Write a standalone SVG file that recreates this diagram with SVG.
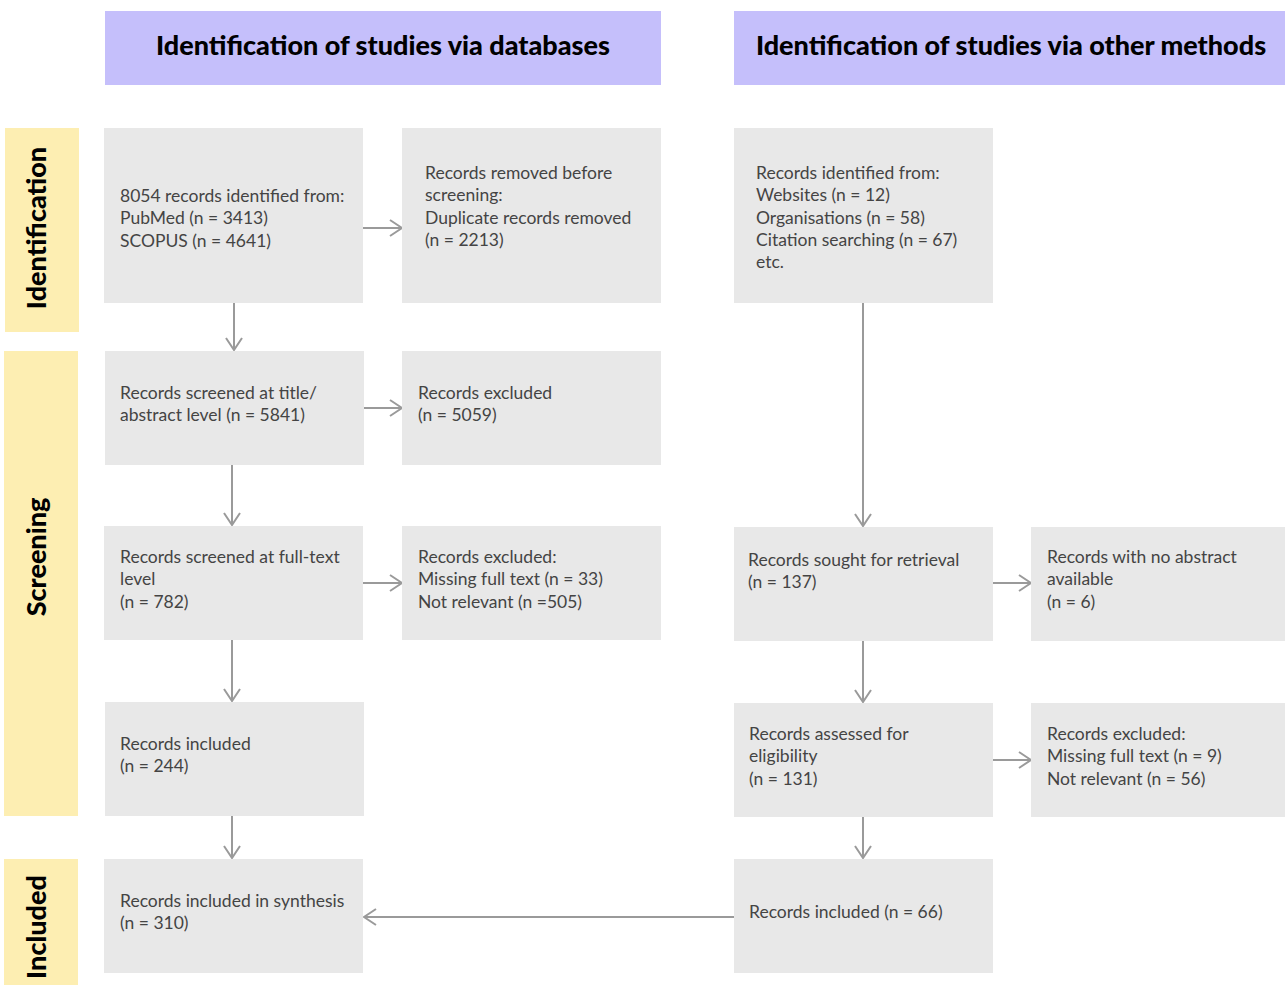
<svg xmlns="http://www.w3.org/2000/svg" width="1285" height="985" viewBox="0 0 1285 985">
<defs>
<style>
.hdr{fill:#c5bffb}
.side{fill:#fdeeb2}
.box{fill:#e8e8e8}
.ht{font-family:Lato,"Open Sans","Liberation Sans",sans-serif;font-weight:900;font-size:27px;fill:#000;text-anchor:middle}
.st{font-family:Lato,"Open Sans","Liberation Sans",sans-serif;font-weight:900;font-size:27px;fill:#000;text-anchor:middle}
.t{font-family:Lato,"Open Sans","Liberation Sans",sans-serif;font-weight:400;font-size:17.5px;fill:#444}
.c{stroke:#9a9a9a;stroke-width:2;fill:none}
</style>
<marker id="ah" viewBox="0 0 14 18" refX="13" refY="9" markerWidth="14" markerHeight="18" markerUnits="userSpaceOnUse" orient="auto">
<path d="M1,1 L13,9 L1,17" fill="none" stroke="#9a9a9a" stroke-width="2"/>
</marker>
</defs>
<rect width="1285" height="985" fill="#fff"/>
<g id="header-databases"><rect class="hdr" x="105" y="11" width="556" height="74"/><text class="ht" x="383" y="55">Identification of studies via databases</text></g>
<g id="header-other"><rect class="hdr" x="734" y="11" width="551" height="74"/><text class="ht" x="1011" y="55">Identification of studies via other methods</text></g>
<g id="side-identification"><rect class="side" x="5" y="128" width="74" height="204"/><text class="st" transform="translate(46,228) rotate(-90)">Identification</text></g>
<g id="side-screening"><rect class="side" x="4" y="351" width="74" height="465"/><text class="st" transform="translate(46,557) rotate(-90)">Screening</text></g>
<g id="side-included"><rect class="side" x="4" y="859" width="74" height="126"/><text class="st" transform="translate(46,927) rotate(-90)">Included</text></g>
<g id="connectors">
<line class="c" x1="363" y1="228" x2="402" y2="228" marker-end="url(#ah)"/>
<line class="c" x1="234" y1="303" x2="234" y2="350" marker-end="url(#ah)"/>
<line class="c" x1="364" y1="408" x2="402" y2="408" marker-end="url(#ah)"/>
<line class="c" x1="232" y1="465" x2="232" y2="525" marker-end="url(#ah)"/>
<line class="c" x1="363" y1="583" x2="402" y2="583" marker-end="url(#ah)"/>
<line class="c" x1="232" y1="640" x2="232" y2="701" marker-end="url(#ah)"/>
<line class="c" x1="232" y1="816" x2="232" y2="858" marker-end="url(#ah)"/>
<line class="c" x1="863" y1="303" x2="863" y2="526" marker-end="url(#ah)"/>
<line class="c" x1="993" y1="583" x2="1031" y2="583" marker-end="url(#ah)"/>
<line class="c" x1="863" y1="641" x2="863" y2="702" marker-end="url(#ah)"/>
<line class="c" x1="993" y1="760" x2="1031" y2="760" marker-end="url(#ah)"/>
<line class="c" x1="863" y1="817" x2="863" y2="858" marker-end="url(#ah)"/>
<line class="c" x1="734" y1="917" x2="364" y2="917" marker-end="url(#ah)"/>
</g>
<g id="n-identified"><rect class="box" x="104" y="128" width="259" height="175"/><text class="t" x="120" y="202">8054 records identified from:</text><text class="t" x="120" y="224">PubMed (n = 3413)</text><text class="t" x="120" y="247">SCOPUS (n = 4641)</text></g>
<g id="n-removed"><rect class="box" x="402" y="128" width="259" height="175"/><text class="t" x="425" y="179">Records removed before</text><text class="t" x="425" y="201">screening:</text><text class="t" x="425" y="224">Duplicate records removed</text><text class="t" x="425" y="246">(n = 2213)</text></g>
<g id="n-other"><rect class="box" x="734" y="128" width="259" height="175"/><text class="t" x="756" y="179">Records identified from:</text><text class="t" x="756" y="201">Websites (n = 12)</text><text class="t" x="756" y="224">Organisations (n = 58)</text><text class="t" x="756" y="246">Citation searching (n = 67)</text><text class="t" x="756" y="268">etc.</text></g>
<g id="n-screened-title"><rect class="box" x="105" y="351" width="259" height="114"/><text class="t" x="120" y="399">Records screened at title/</text><text class="t" x="120" y="421">abstract level (n = 5841)</text></g>
<g id="n-excluded-1"><rect class="box" x="402" y="351" width="259" height="114"/><text class="t" x="418" y="399">Records excluded</text><text class="t" x="418" y="421">(n = 5059)</text></g>
<g id="n-screened-full"><rect class="box" x="104" y="526" width="259" height="114"/><text class="t" x="120" y="563">Records screened at full-text</text><text class="t" x="120" y="585">level</text><text class="t" x="120" y="608">(n = 782)</text></g>
<g id="n-excluded-2"><rect class="box" x="402" y="526" width="259" height="114"/><text class="t" x="418" y="563">Records excluded:</text><text class="t" x="418" y="585">Missing full text (n = 33)</text><text class="t" x="418" y="608">Not relevant (n =505)</text></g>
<g id="n-sought"><rect class="box" x="734" y="527" width="259" height="114"/><text class="t" x="748" y="566">Records sought for retrieval</text><text class="t" x="748" y="588">(n = 137)</text></g>
<g id="n-noabstract"><rect class="box" x="1031" y="527" width="254" height="114"/><text class="t" x="1047" y="563">Records with no abstract</text><text class="t" x="1047" y="585">available</text><text class="t" x="1047" y="608">(n = 6)</text></g>
<g id="n-included-db"><rect class="box" x="105" y="702" width="259" height="114"/><text class="t" x="120" y="750">Records included</text><text class="t" x="120" y="772">(n = 244)</text></g>
<g id="n-assessed"><rect class="box" x="734" y="703" width="259" height="114"/><text class="t" x="749" y="740">Records assessed for</text><text class="t" x="749" y="762">eligibility</text><text class="t" x="749" y="785">(n = 131)</text></g>
<g id="n-excluded-3"><rect class="box" x="1031" y="703" width="254" height="114"/><text class="t" x="1047" y="740">Records excluded:</text><text class="t" x="1047" y="762">Missing full text (n = 9)</text><text class="t" x="1047" y="785">Not relevant (n = 56)</text></g>
<g id="n-synthesis"><rect class="box" x="104" y="859" width="259" height="114"/><text class="t" x="120" y="907">Records included in synthesis</text><text class="t" x="120" y="929">(n = 310)</text></g>
<g id="n-included-other"><rect class="box" x="734" y="859" width="259" height="114"/><text class="t" x="749" y="918">Records included (n = 66)</text></g>
</svg>
